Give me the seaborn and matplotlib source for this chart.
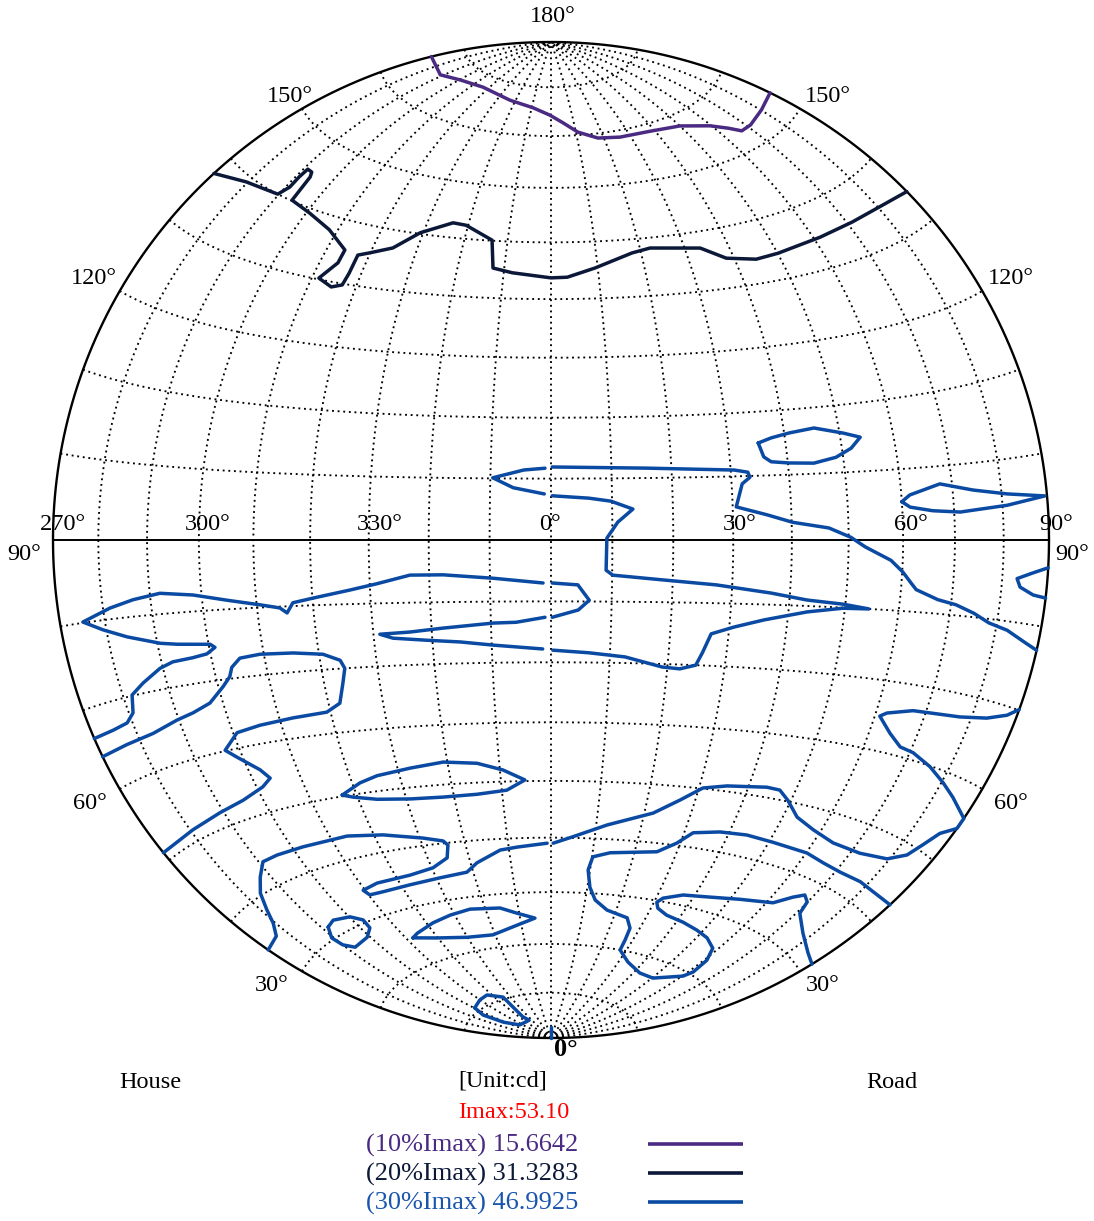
import numpy as np
import pandas as pd
import matplotlib
matplotlib.use("Agg")
import matplotlib.pyplot as plt
import seaborn as sns

# isocandela lines as (C-plane angle, gamma angle) in degrees
purple_c = [270, 288.7, 300.5, 316.4, 336.9, 350.7, 359.5, 5.3, 10.8, 17.8, 26.1, 38.2, 50.0, 59.5, 64.0, 66.8, 71.4, 80.3, 90]
purple_g = [166.1, 165.9, 167.1, 167.7, 166.6, 165.6, 164.2, 162.6, 160.6, 159.1, 158.7, 158.6, 157.9, 156.0, 154.4, 153.1, 153.1, 153.6, 153.9]

navy_c = [270, 279.5, 289.7, 291.0, 290.9, 291.1, 292.8, 293.6, 294.3, 300.9, 308.0, 314.1, 314.0, 311.5, 314.9, 317.0, 317.4, 317.5, 319.9, 324.5,
          329.3, 336.2, 339.5, 346.4, 347.6, 351.8, 0.0, 3.4, 9.4, 18.0, 22.3, 33.5, 38.3, 44.7, 50.1, 61.6, 71.3, 80.5, 90]
navy_g = [137.4, 139.2, 140.0, 141.6, 143.4, 144.9, 144.8, 144.1, 140.1, 139.3, 137.8, 135.3, 133.1, 130.2, 129.2, 129.8, 131.8, 134.9, 135.6, 137.0,
          140.2, 142.6, 142.4, 140.1, 135.2, 134.5, 133.7, 133.8, 135.3, 137.6, 138.2, 137.2, 134.9, 133.9, 134.1, 134.7, 135.0, 135.0, 134.4]

# 30% line, stored per half plane (270-360 / 0-90) like the source program draws it
blue1_c = [35.2, 35.9, 37.1, 40.2, 44.6, 48.7, 51.7, 53.7, 50.7, 45.5, 40.9, 37.6, 35.2]
blue1_g = [105.1, 102.9, 102.1, 101.8, 101.6, 102.3, 103.5, 105.0, 105.8, 106.9, 106.4, 105.8, 105.1]

blue2_c = [60.0, 61.6, 67.6, 74.1, 81.2, 89.5, 81.0, 71.2, 65.8, 61.5, 60.0]
blue2_g = [95.4, 96.3, 97.6, 96.5, 95.7, 95.1, 94.3, 93.7, 94.0, 94.6, 95.4]

blue3a_c = [270, 275.1, 278.8, 280.9, 282.0, 285.1, 289.4, 292.3, 296.4, 299.3, 301.1, 300.3, 293.9, 290.6, 284.1, 279.3, 275.2,
            281.5, 286.5, 292.0, 298.4, 304.7, 310.6, 314.1, 315.3, 316.5, 320.1, 326.6, 331.2, 336.8, 342.3, 350.5, 358.7]
blue3a_g = [66.5, 66.6, 66.9, 67.9, 70.1, 71.3, 72.8, 73.4, 73.6, 73.9, 74.7, 75.2, 75.7, 76.1, 77.5, 78.8, 80.1,
            81.4, 82.2, 82.8, 82.3, 81.3, 80.4, 79.8, 79.0, 80.5, 81.1, 82.2, 83.1, 84.4, 84.4, 83.8, 83.0]
blue3b_c = [0.2, 4.4, 6.3, 4.5, 0.2]
blue3b_g = [83.0, 82.7, 80.2, 78.6, 77.4]
blue3c_c = [359.0, 354.2, 350.4, 341.9, 336.3, 331.1, 333.3, 339.1, 344.7, 350.2, 358.6]
blue3c_g = [77.4, 76.6, 76.5, 75.8, 75.3, 75.1, 74.4, 73.9, 73.5, 72.9, 72.2]
blue3d_c = [0.3, 6.4, 12.6, 19.1, 22.2, 24.9, 25.8, 27.0, 30.8, 35.9, 43.3, 49.6, 54.4, 49.6, 43.1, 36.7, 27.3, 18.2, 10.1, 9.0,
            9.1, 10.9, 13.4, 9.8, 6.2, 0.2]
blue3d_g = [72.0, 71.6, 71.0, 69.5, 69.3, 70.0, 72.0, 75.1, 76.3, 77.6, 79.1, 79.9, 80.0, 80.5, 80.9, 81.8, 82.9, 83.6, 84.3, 85.1,
            90.3, 92.9, 95.0, 96.3, 96.8, 97.2]
blue3e_c = [358.9, 353.8, 350.4, 355.5, 359.0]
blue3e_g = [97.5, 98.5, 100.1, 101.4, 101.7]
blue3f_c = [0.2, 15.9, 30.6, 32.9, 33.2, 31.8, 30.6, 35.8, 40.2, 46.5, 50.4, 53.0, 57.8, 60.1, 61.8, 62.9, 67.3, 71.0, 74.9,
            78.3, 82.5, 87.0, 90]
blue3f_g = [101.9, 101.6, 101.0, 100.6, 99.8, 98.8, 95.2, 93.9, 92.7, 91.8, 90.4, 89.0, 87.1, 85.5, 84.0, 83.1, 81.9, 81.4, 80.5,
            79.5, 78.9, 77.8, 77.2]

blue4a_c = [90, 87.7, 83.4, 77.5, 73.1, 67.3, 62.2, 61.0, 64.3, 67.5, 70.7, 75.7, 80.4, 84.4, 90, 90, 86.9, 85.0, 83.2, 79.4,
            72.2, 64.5, 58.2, 53.1, 49.3, 46.7, 43.8, 35.6, 30.8, 26.8, 21.9, 12.4, 5.0, 0.5]
blue4a_g = [70.1, 69.0, 67.9, 67.1, 66.8, 66.5, 65.5, 64.9, 62.8, 61.3, 61.0, 59.9, 58.6, 57.5, 56.0, 54.6, 53.0, 50.8, 48.7, 47.0,
            46.0, 45.9, 46.8, 48.0, 50.2, 51.5, 51.6, 50.9, 50.1, 47.7, 45.1, 42.5, 40.2, 39.0]
blue4b_c = [359.1, 352.0, 347.9, 341.6, 338.4, 331.0, 322.3, 314.2, 310.3, 309.5, 314.3, 323.7, 330.3, 334.7, 335.9, 335.1,
            330.7, 322.0, 313.9, 302.5, 295.4, 291.0, 287.4, 284.0, 281.5, 279.4, 276.3, 270]
blue4b_g = [39.0, 38.4, 38.0, 36.0, 34.5, 34.1, 33.8, 33.7, 33.8, 34.8, 35.3, 35.4, 36.0, 37.4, 39.6, 40.4,
            41.3, 42.8, 43.7, 43.8, 43.9, 43.8, 42.1, 40.3, 38.1, 36.3, 34.9, 34.6]

blue5_c = [317.0, 321.6, 325.5, 332.5, 339.2, 345.7, 350.6, 354.8, 351.0, 344.8, 337.7, 330.8, 323.9, 319.1, 317.0]
blue5_g = [50.2, 51.7, 52.5, 53.2, 53.8, 53.3, 52.0, 50.2, 48.5, 48.0, 47.9, 48.1, 48.7, 49.6, 50.2]

blue6_c = [90, 83.0, 77.8, 71.2, 65.6, 60.2, 50.9, 44.2, 37.9, 32.0, 29.2, 25.3, 14.2, 10.2, 9.5, 10.7, 12.9, 17.2, 24.3, 26.8,
           27.3, 27.6, 33.9, 42.8, 50.4, 60.3, 61.7, 60.9, 58.2, 53.2, 48.0, 42.0, 35.8, 32.0, 30.8, 31.9, 36.9, 43.6, 52.5, 61.7,
           65.3, 67.7, 69.9, 70.9, 77.3, 85.0, 90]
blue6_g = [42.9, 42.7, 42.8, 42.6, 42.8, 43.3, 43.4, 43.6, 43.3, 42.5, 40.4, 38.5, 37.6, 36.7, 34.3, 31.1, 28.8, 27.1, 26.1, 24.3,
           22.0, 20.0, 18.1, 16.8, 16.8, 19.2, 20.5, 23.0, 25.0, 26.1, 26.7, 27.3, 27.8, 28.7, 29.7, 30.6, 31.8, 32.4, 33.5, 34.8,
           36.7, 37.7, 37.0, 35.2, 33.3, 32.0, 31.6]

blue7_c = [270, 276.7, 283.5, 289.6, 293.4, 297.4, 300.9, 302.7, 303.5, 305.4, 309.3, 315.4, 320.7, 323.6, 324.2, 323.4, 322.1,
           319.3, 312.6, 305.8, 300.8, 297.0, 298.8, 302.4, 303.7, 301.3, 295.7, 289.1, 280.6, 270]
blue7_g = [64.2, 64.4, 64.7, 65.6, 66.1, 67.0, 69.0, 70.3, 71.6, 72.8, 73.1, 72.9, 72.4, 71.3, 70.0, 67.7, 64.6,
           63.4, 63.1, 62.7, 62.2, 60.1, 58.8, 56.3, 54.8, 53.8, 52.7, 52.1, 51.5, 51.1]

blue8_c = [291.8, 295.0, 300.2, 302.9, 302.6, 299.1, 292.5, 290.0, 289.4, 291.8]
blue8_g = [31.8, 32.3, 31.7, 30.5, 29.0, 27.9, 27.5, 28.7, 30.3, 31.8]

blue9_c = [312.2, 314.8, 322.0, 328.6, 335.4, 344.5, 349.3, 354.8, 348.5, 339.2, 329.9, 319.7, 312.2]
blue9_g = [25.1, 25.6, 26.6, 27.3, 27.8, 27.4, 26.2, 25.1, 23.9, 22.5, 22.8, 23.9, 25.1]

blue10_c = [300.4, 309.9, 317.2, 325.2, 324.9, 323.7, 326.4, 306.8, 298.6, 296.9, 300.4]
blue10_g = [10.7, 11.4, 11.7, 10.4, 8.1, 5.7, 4.7, 4.6, 6.4, 9.1, 10.7]

blue11_c = [90, 86.6, 83.2, 84.0, 87.1, 90]
blue11_g = [86.8, 86.1, 85.3, 84.3, 83.5, 83.3]

blue12_c = [0, 0]
blue12_g = [0, 2.5]

levels = ["10%", "20%", "30%"]
level_values = [15.6642, 31.3283, 46.9925]
imax = 53.10
level_colors = {"10%": "#4a2a82", "20%": "#0b1838", "30%": "#0a4aa3"}
legend_text_colors = {"10%": "#4a2a82", "20%": "#0b1838", "30%": "#1a55ad"}

gamma_labels = [30, 60, 90, 120, 150]
c_labels = [270, 300, 330, 0, 30, 60, 90]

W, H = 1094, 1221
CX, CY, R = 551, 540, 498


def project(c_deg, g_deg):
    # Lambert azimuthal equal-area view centred on C=0, gamma=90 (rim radius 1)
    c = np.radians(np.asarray(c_deg, dtype=float))
    g = np.radians(np.asarray(g_deg, dtype=float))
    a = np.sin(g) * np.sin(c)
    b = -np.cos(g)
    z = np.sin(g) * np.cos(c)
    k = 1.0 / np.sqrt(1.0 + z)
    return a * k, b * k


def pxy(x, y):
    return (x - CX) / R, (CY - y) / R


sns.set_style("white")
plt.rcParams["font.family"] = ["Liberation Serif", "DejaVu Serif"]
plt.rcParams["text.color"] = "black"

fig = plt.figure(figsize=(W / 100, H / 100), dpi=100)
ax = fig.add_axes([0, 0, 1, 1])
ax.set_xlim(-CX / R, (W - CX) / R)
ax.set_ylim((CY - H) / R, CY / R)
ax.axis("off")

dots = dict(color="black", lw=1.35, ls=(0, (1, 2.0)), dash_capstyle="butt", zorder=1)
gg = np.linspace(0, 180, 721)
for cm in range(-80, 90, 10):
    x, y = project(cm, gg)
    ax.plot(x, y, **dots)
cc = np.linspace(-90, 90, 721)
for gp in range(10, 180, 10):
    if gp == 90:
        continue
    x, y = project(cc, gp)
    ax.plot(x, y, **dots)

t = np.linspace(0, 2 * np.pi, 721)
ax.plot(np.cos(t), np.sin(t), color="black", lw=1.7, zorder=2)
ax.plot([-1, 1], [0, 0], color="black", lw=1.4, zorder=2)

segments = [
    ("10%", purple_c, purple_g), ("20%", navy_c, navy_g),
    ("30%", blue1_c, blue1_g), ("30%", blue2_c, blue2_g),
    ("30%", blue3a_c, blue3a_g), ("30%", blue3b_c, blue3b_g), ("30%", blue3c_c, blue3c_g),
    ("30%", blue3d_c, blue3d_g), ("30%", blue3e_c, blue3e_g), ("30%", blue3f_c, blue3f_g),
    ("30%", blue4a_c, blue4a_g), ("30%", blue4b_c, blue4b_g),
    ("30%", blue5_c, blue5_g), ("30%", blue6_c, blue6_g), ("30%", blue7_c, blue7_g),
    ("30%", blue8_c, blue8_g), ("30%", blue9_c, blue9_g), ("30%", blue10_c, blue10_g),
    ("30%", blue11_c, blue11_g), ("30%", blue12_c, blue12_g),
]
frames = []
for i, (lev, cs, gs) in enumerate(segments):
    x, y = project(cs, gs)
    frames.append(pd.DataFrame({"x": x, "y": y, "level": lev, "seg": i}))
df = pd.concat(frames, ignore_index=True)

sns.lineplot(data=df, x="x", y="y", hue="level", units="seg", estimator=None, sort=False,
             palette=level_colors, hue_order=levels, linewidth=2.5, legend=False, ax=ax, zorder=3)

fs = 17.5
# C labels along the equator
c_dx = {270: 10, 300: 9, 330: 11, 0: -1, 30: 6, 60: 8, 90: 7}
for cl in c_labels:
    x, _ = project(cl, 90)
    ax.text(x + c_dx[cl] / R, 15 / R, f"{cl}°", ha="center", va="center", fontsize=fs)

# gamma labels on the rim
left_off = {150: (11, -12), 120: (-3, -13), 90: (-12, 14), 60: (-13, 14), 30: (-13, 14)}
right_off = {150: (5, -12), 120: (6, -13), 90: (6, 14), 60: (12, 14), 30: (6, 14)}
for gl in gamma_labels:
    x, y = project(90, gl)
    dx, dy = right_off[gl]
    ax.text(x + dx / R, y - dy / R, f"{gl}°", ha="left", va="center", fontsize=fs)
    x, y = project(270, gl)
    dx, dy = left_off[gl]
    ax.text(x + dx / R, y - dy / R, f"{gl}°", ha="right", va="center", fontsize=fs)

ax.text(*pxy(553, 16), "180°", ha="center", va="center", fontsize=fs)
ax.text(*pxy(566, 1050), "0°", ha="center", va="center", fontsize=19, fontweight="bold")

ax.text(*pxy(150, 1083), "House", ha="center", va="center", fontsize=fs)
ax.text(*pxy(503, 1081), "[Unit:cd]", ha="center", va="center", fontsize=fs)
ax.text(*pxy(892, 1083), "Road", ha="center", va="center", fontsize=fs)
ax.text(*pxy(514, 1113), f"Imax:{imax:.2f}", ha="center", va="center", fontsize=fs, color="red")

for i, (lev, val) in enumerate(zip(levels, level_values)):
    yrow = 1145 + 29 * i
    ax.text(*pxy(578, yrow), f"({lev}Imax) {val:.4f}", ha="right", va="center",
            fontsize=19, color=legend_text_colors[lev])
    x0, y0 = pxy(648, yrow - 1)
    x1, _ = pxy(743, yrow - 1)
    ax.plot([x0, x1], [y0, y0], color=level_colors[lev], lw=2.6, solid_capstyle="butt")

fig.savefig("out.png", dpi=100)
